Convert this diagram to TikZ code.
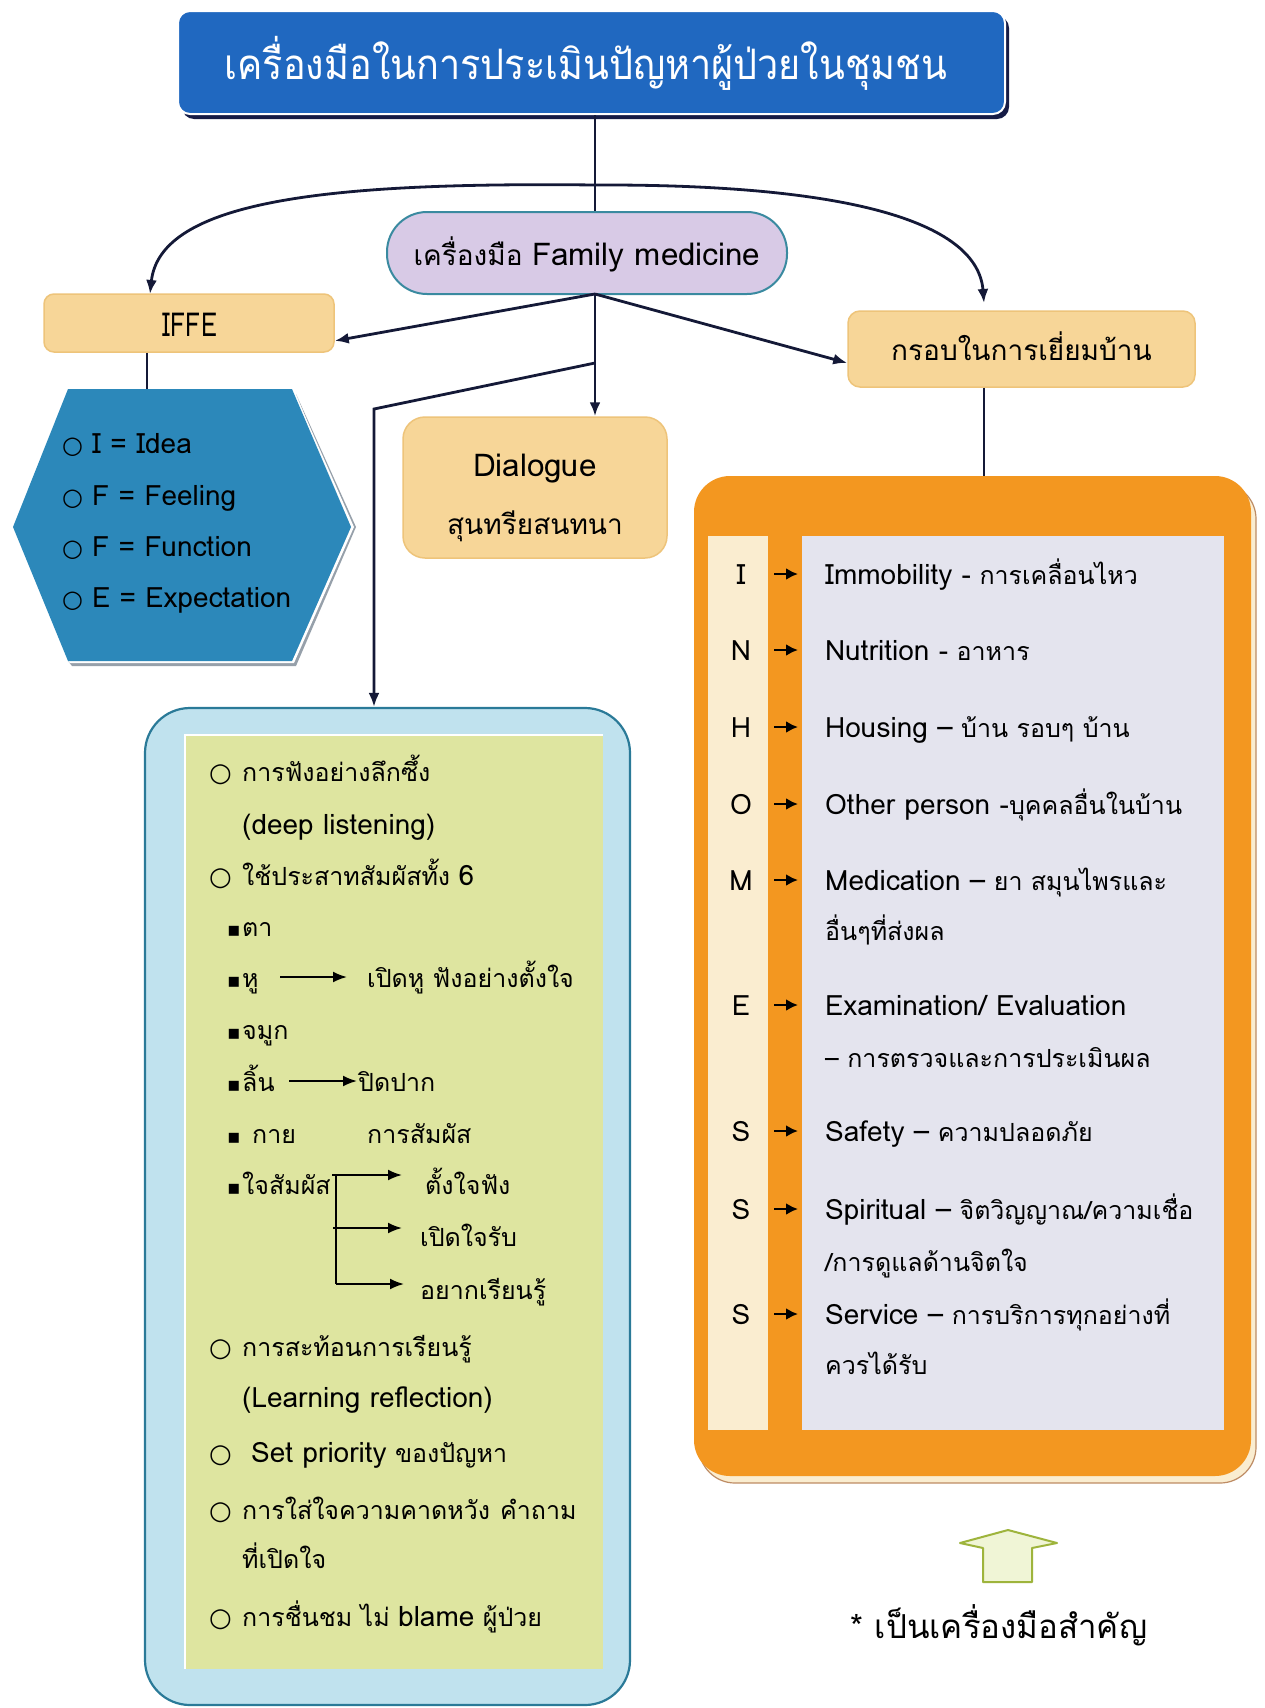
\documentclass[tikz,border=0pt]{standalone}
\usepackage{fontspec}
\setmainfont[Script=Thai]{Loma}
\newfontfamily\lat[Scale=1.12]{Loma}
\newfontfamily\titlef[Script=Thai,FakeStretch=0.9]{Loma}
\newfontfamily\condf[FakeStretch=0.75]{Loma}
\newfontfamily\symf{DejaVu Sans}
\usetikzlibrary{arrows.meta,calc,shadows}
\definecolor{titleblue}{RGB}{32,104,192}
\definecolor{navy}{RGB}{22,28,70}
\definecolor{hexblue}{RGB}{44,136,186}
\definecolor{hexsh}{RGB}{150,160,170}
\definecolor{lav}{RGB}{216,202,230}
\definecolor{tealb}{RGB}{58,138,160}
\definecolor{tanf}{RGB}{247,214,152}
\definecolor{tanb}{RGB}{238,196,122}
\definecolor{orng}{RGB}{243,151,32}
\definecolor{cream}{RGB}{250,237,208}
\definecolor{shbrown}{RGB}{190,140,100}
\definecolor{panelc}{RGB}{228,228,238}
\definecolor{lblue}{RGB}{192,226,238}
\definecolor{bblue}{RGB}{42,122,152}
\definecolor{ygreen}{RGB}{222,229,160}
\definecolor{agreen}{RGB}{158,180,60}
\definecolor{afill}{RGB}{240,245,214}
\definecolor{ink}{RGB}{20,25,55}
\newcommand{\cir}{\makebox[33pt][l]{\symf\fontsize{26}{26}\selectfont ○}}
\newcommand{\hcir}{\makebox[30pt][l]{\symf\fontsize{24}{24}\selectfont ○}}
\newcommand{\sqb}{\makebox[15pt][l]{\symf\fontsize{20}{20}\selectfont ▪}}
\tikzset{
  fs/.style={font=\fontsize{#1}{#1}\selectfont},
  tx/.style={anchor=mid west, inner sep=0pt, text=black, fs=25, yshift=-8pt},
  ctx/.style={anchor=mid, inner sep=0pt, text=black, fs=25, yshift=-8pt},
  tanbox/.style={draw=tanb, line width=1.5pt, fill=tanf, rounded corners=#1, inner sep=0pt},
  conn/.style={draw=ink, line width=2.8pt},
  arr/.style={conn, -{Latex[length=14pt,width=11pt]}},
  sarr/.style={draw=black, line width=2pt, -{Latex[length=14pt,width=11pt]}},
  oarr/.style={draw=black, line width=2.5pt, -{Latex[length=12pt,width=12pt]}},
}
\begin{document}
\begin{tikzpicture}[x=1pt,y=-1pt]
\useasboundingbox (0,0) rectangle (1265,1708);
\fill[white] (0,0) rectangle (1265,1708);

% coordinates
\coordinate (top) at (595,185);
\coordinate (pb) at (595,294);
\coordinate (mid) at (595,363);
\coordinate (bend) at (374,409);
\coordinate (hx) at (147,0);
\coordinate (kx) at (984,0);

% title
\node[fill=titleblue, draw=white, line width=2pt, rounded corners=12pt,
  minimum width=827pt, minimum height=103pt, inner sep=0pt,
  drop shadow={shadow xshift=4pt, shadow yshift=-5pt, fill=navy, opacity=1}] (title) at (591.5,62.5) {};
\node[ctx, text=white, font=\titlef\fontsize{42}{42}\selectfont] (titleT) at (586,69)
  {เครื่องมือในการประเมินปัญหาผู้ป่วยในชุมชน};

% arcs
\draw[arr] (top) .. controls (330,182) and (160,200) .. (150,294) coordinate (iffeArc);
\draw[arr] (top) .. controls (860,184) and (978,225) .. (984,303) coordinate (krobArc);
\draw[conn] (title.south -| top) -- (pb);

% pill
\node[fill=lav, draw=tealb, line width=2pt, rounded corners=40pt,
  minimum width=400pt, minimum height=82pt, inner sep=0pt] (pill) at (587,253) {};
\node[ctx, fs=28] (pillT) at (587,255) {เครื่องมือ {\lat Family medicine}};

% IFFE
\node[tanbox=10pt, minimum width=290pt, minimum height=58pt] (iffe) at (189,323) {};
\node[ctx, font=\condf\fontsize{33}{33}\selectfont] (iffeT) at (190,326) {IFFE};
% krob
\node[tanbox=12pt, minimum width=347pt, minimum height=76pt] (krob) at (1021.5,349) {};
\node[ctx, fs=28] (krobT) at (1021.5,350) {กรอบในการเยี่ยมบ้าน};
% dialogue
\node[tanbox=22pt, minimum width=264pt, minimum height=141pt] (dlg) at (535,487.5) {};
\node[ctx, fs=28] (dlg1) at (535,466) {\lat Dialogue};
\node[ctx, fs=28] (dlg2) at (535,524) {สุนทรียสนทนา};

% connectors from pill
\draw[arr] (pb) -- ($(iffe.north east)!0.8!(iffe.south east)$);
\draw[arr] (pb) -- ($(krob.north west)!0.68!(krob.south west)$);
\draw[arr] (pb) -- (pb |- dlg.north);

% hexagon
\coordinate (h1) at (68,389); \coordinate (h2) at (292,389); \coordinate (h3) at (351,527);
\coordinate (h4) at (292,661); \coordinate (h5) at (68,661); \coordinate (h6) at (13,527);
\fill[hexsh] ([shift={(4,5)}]h2) -- ([shift={(5,0)}]h3) -- ([shift={(4,5)}]h4) -- ([shift={(4,5)}]h5) -- (h5) -- (h4) -- (h3) -- cycle;
\fill[white] ([shift={(2,2)}]h2) -- ([shift={(3,0)}]h3) -- ([shift={(2,2)}]h4) -- ([shift={(2,2)}]h5) -- (h5) -- (h4) -- (h3) -- cycle;
\fill[hexblue] (h1) -- (h2) -- (h3) -- (h4) -- (h5) -- (h6) -- cycle;
\draw[conn] (iffe.south -| hx) -- (h1 -| hx);
\node[tx] (x1) at (62,443) {\hcir\lat I = Idea};
\node[tx] (x2) at (62,495) {\hcir\lat F = Feeling};
\node[tx] (x3) at (62,546) {\hcir\lat F = Function};
\node[tx] (x4) at (62,597) {\hcir\lat E = Expectation};

% orange box
\fill[cream, draw=shbrown, line width=1.2pt, rounded corners=36pt] (699,483) rectangle (1256,1483);
\node[fill=orng, rounded corners=36pt, minimum width=557pt, minimum height=1000pt, inner sep=0pt] (obox) at (972.5,976) {};
\fill[cream] (708,536) rectangle (768,1430);
\fill[panelc] (802,536) rectangle (1224,1430);
\draw[conn] (krob.south -| kx) -- (obox.north -| kx);

\foreach \n/\L/\y in {oI/I/574, oN/N/650, oH/H/727, oO/O/804, oM/M/880, oE/E/1005, oS1/S/1131, oS2/S/1209, oS3/S/1314}{
  \node[ctx] (\n) at (741,\y) {\lat\L};
  \coordinate (\n a) at (774,\y); \coordinate (\n b) at (798,\y);
  \draw[oarr] (\n a) -- (\n b);
}
\node[tx] (t1) at (825,574) {{\lat Immobility -} การเคลื่อนไหว};
\node[tx] (t2) at (825,650) {{\lat Nutrition -} อาหาร};
\node[tx] (t3) at (825,727) {{\lat Housing –} บ้าน รอบๆ บ้าน};
\node[tx] (t4) at (825,804) {{\lat Other person -}บุคคลอื่นในบ้าน};
\node[tx] (t5) at (825,880) {{\lat Medication –} ยา สมุนไพรและ};
\node[tx] (t5b) at (825,930) {อื่นๆที่ส่งผล};
\node[tx] (t6) at (825,1005) {\lat Examination/ Evaluation};
\node[tx] (t6b) at (825,1057) {– การตรวจและการประเมินผล};
\node[tx] (t7) at (825,1131) {{\lat Safety –} ความปลอดภัย};
\node[tx] (t8) at (825,1209) {{\lat Spiritual –} จิตวิญญาณ/ความเชื่อ};
\node[tx] (t8b) at (825,1261) {/การดูแลด้านจิตใจ};
\node[tx] (t9) at (825,1314) {{\lat Service –} การบริการทุกอย่างที่};
\node[tx] (t9b) at (825,1364) {ควรได้รับ};

% light blue box
\node[fill=lblue, draw=bblue, line width=2.2pt, rounded corners=45pt, minimum width=485pt, minimum height=997pt, inner sep=0pt] (bbox) at (387.5,1206.5) {};
\fill[ygreen] (185,735) rectangle (603,1669);
\draw[white, line width=1.5pt] (185,1669) -- (185,735) -- (603,735);
\draw[arr] (mid) -- (bend) -- (bend |- bbox.north);

\node[tx] (l1) at (209,771) {\cir การฟังอย่างลึกซึ้ง};
\node[tx] (l2) at (242,824) {\lat (deep listening)};
\node[tx] (l3) at (209,875) {\cir ใช้ประสาทสัมผัสทั้ง {\lat 6}};
\node[tx] (l4) at (227,926) {\sqb ตา};
\node[tx] (l5) at (227,977) {\sqb หู};
\coordinate (a5s) at (280,977); \coordinate (a5e) at (347,977);
\draw[sarr] (a5s) -- (a5e);
\node[tx] (l5b) at (367,977) {เปิดหู ฟังอย่างตั้งใจ};
\node[tx] (l6) at (227,1029) {\sqb จมูก};
\node[tx] (l7) at (227,1081) {\sqb ลิ้น};
\coordinate (a7s) at (289,1081); \coordinate (a7e) at (357,1081);
\draw[sarr] (a7s) -- (a7e);
\node[tx] (l7b) at (358,1081) {ปิดปาก};
\node[tx] (l8) at (227,1133) {\sqb\hspace{10pt}กาย};
\node[tx] (l8b) at (367,1133) {การสัมผัส};
\node[tx] (l9) at (227,1184) {\sqb ใจสัมผัส};
\coordinate (b0) at (332,1175); \coordinate (b1) at (336,1175); \coordinate (b2) at (336,1228);
\coordinate (b3) at (336,1284); \coordinate (b2s) at (333,1228);
\coordinate (e1) at (402,1175); \coordinate (e2) at (402,1228); \coordinate (e3) at (404,1284);
\draw[sarr] (b0) -- (e1);
\draw[black, line width=2pt] (b1) -- (b3);
\draw[sarr] (b2s) -- (e2);
\draw[sarr] (b3) -- (e3);
\node[tx] (l9a) at (425,1184) {ตั้งใจฟัง};
\node[tx] (l9b) at (420,1236) {เปิดใจรับ};
\node[tx] (l9c) at (420,1289) {อยากเรียนรู้};
\node[tx] (l10) at (209,1346) {\cir การสะท้อนการเรียนรู้};
\node[tx] (l11) at (242,1397) {\lat (Learning reflection)};
\node[tx] (l12) at (209,1452) {\cir\hspace{9pt}{\lat Set priority} ของปัญหา};
\node[tx] (l13) at (209,1509) {\cir การใส่ใจความคาดหวัง\hspace{10pt}คำถาม};
\node[tx] (l14) at (242,1558) {ที่เปิดใจ};
\node[tx] (l15) at (209,1616) {\cir การชื่นชม ไม่ {\lat blame} ผู้ป่วย};

% up arrow
\draw[agreen, fill=afill, line width=2pt, line join=round] (983,1582) -- (983,1548) -- (960,1543) -- (1008,1530) -- (1057,1543) -- (1032,1548) -- (1032,1582) -- cycle;
\node[ctx, fs=33] (foot) at (999,1628) {* เป็นเครื่องมือสำคัญ};
\end{tikzpicture}
\end{document}
